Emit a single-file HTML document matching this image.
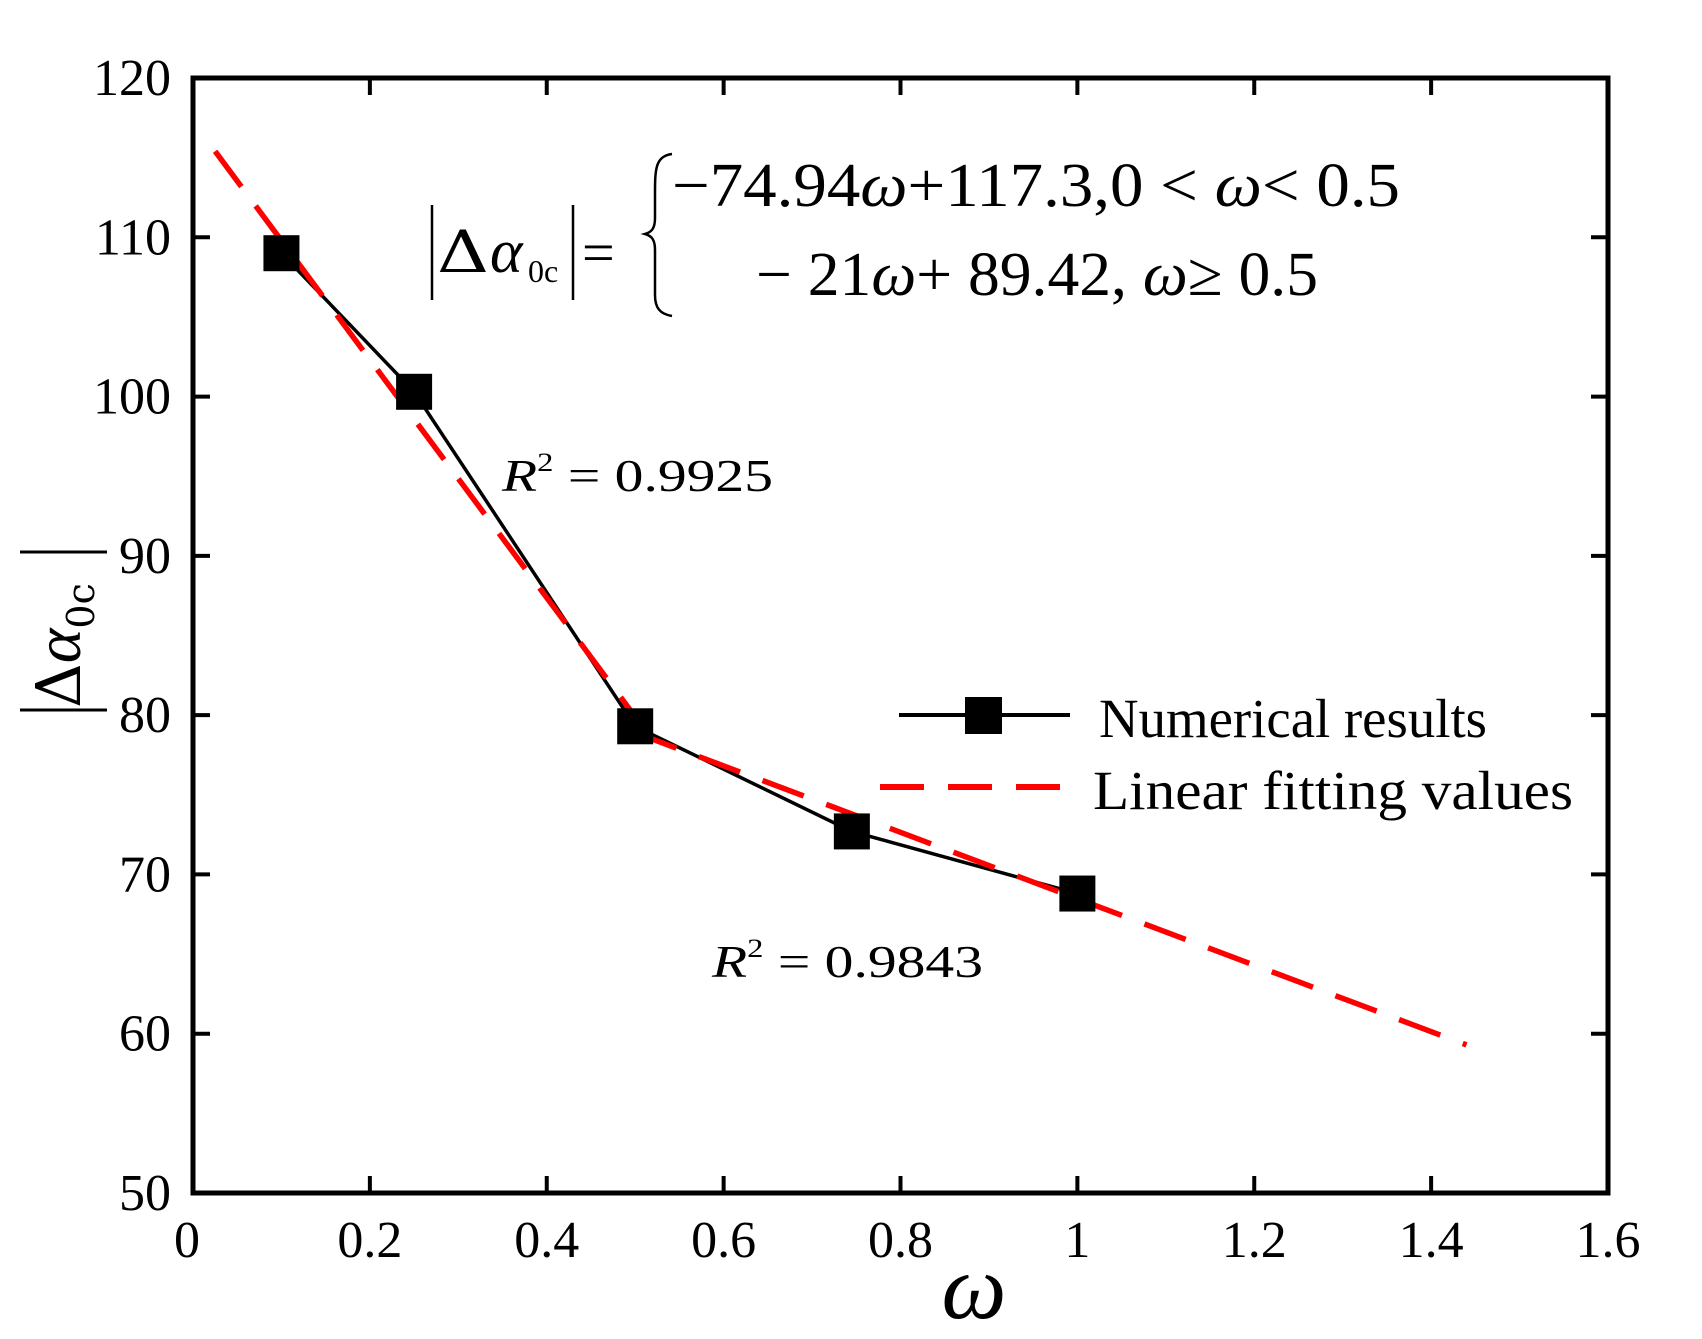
<!DOCTYPE html>
<html><head><meta charset="utf-8"><style>
html,body{margin:0;padding:0;background:#fff;}
svg{display:block;font-family:"Liberation Serif",serif;}
</style></head><body>
<svg id="chart" width="1702" height="1339" viewBox="0 0 1702 1339" xmlns="http://www.w3.org/2000/svg">
<g id="axes"></g>
<g id="series"></g>
<g>
  <line x1="20" y1="552" x2="107" y2="552" stroke="#000" stroke-width="3"/>
  <line x1="20" y1="710" x2="107" y2="710" stroke="#000" stroke-width="3"/>
  <text transform="translate(80,708) rotate(-90)" font-size="62" font-family="'DejaVu Serif',serif">Δ<tspan font-style="italic" font-family="'Liberation Serif',serif" font-size="66">α</tspan><tspan font-size="38" dy="14">0c</tspan></text>
</g>
<text x="974" y="1318" font-size="92" font-style="italic" text-anchor="middle">ω</text>
<g font-family="'Liberation Serif',serif">
  <line x1="432" y1="205" x2="432" y2="300" stroke="#000" stroke-width="2.5"/>
  <line x1="573" y1="205" x2="573" y2="300" stroke="#000" stroke-width="2.5"/>
  <text x="437" y="272" font-size="58" font-family="'DejaVu Serif',serif" textLength="52" lengthAdjust="spacingAndGlyphs">Δ</text>
  <text x="490" y="272" font-size="62" font-style="italic">α</text>
  <text x="528" y="282" font-size="32">0c</text>
  <text x="582" y="272" font-size="58">=</text>
  <path d="M672,154 C655,156 655,170 655,195 L655,218 C655,228 652,232 645,234 C652,236 655,240 655,250 L655,295 C655,308 660,314 672,316" fill="none" stroke="#000" stroke-width="2.5"/>
  <text x="672" y="206" font-size="62" textLength="728" lengthAdjust="spacingAndGlyphs">−74.94<tspan font-style="italic">ω</tspan>+117.3,0 &lt; <tspan font-style="italic">ω</tspan>&lt; 0.5</text>
  <text x="756" y="295" font-size="62" textLength="562" lengthAdjust="spacingAndGlyphs">− 21<tspan font-style="italic">ω</tspan>+ 89.42, <tspan font-style="italic">ω</tspan>≥ 0.5</text>
</g>
<text x="502" y="491" font-size="46" textLength="271" lengthAdjust="spacingAndGlyphs"><tspan font-style="italic">R</tspan><tspan font-size="26" dy="-20">2</tspan><tspan dy="20"> = 0.9925</tspan></text>
<text x="712" y="977" font-size="46" textLength="271" lengthAdjust="spacingAndGlyphs"><tspan font-style="italic">R</tspan><tspan font-size="26" dy="-20">2</tspan><tspan dy="20"> = 0.9843</tspan></text>
<g>
  <g>
    <line x1="899" y1="715" x2="1070" y2="715" stroke="#000" stroke-width="4"/>
    <rect x="965" y="697" width="37" height="37" fill="#000"/>
    <text x="1099" y="737" font-size="55" textLength="388" lengthAdjust="spacingAndGlyphs">Numerical results</text>
  </g>
  <g>
    <line x1="880" y1="787" x2="1082" y2="787" stroke="#f00" stroke-width="6" stroke-dasharray="44,24"/>
    <text x="1093" y="809" font-size="55" textLength="480" lengthAdjust="spacingAndGlyphs">Linear fitting values</text>
  </g>
</g>
</svg>
<script>
const xTicks = [0, 0.2, 0.4, 0.6, 0.8, 1, 1.2, 1.4, 1.6];
const xTickLabels = ["0", "0.2", "0.4", "0.6", "0.8", "1", "1.2", "1.4", "1.6"];
const yTicks = [50, 60, 70, 80, 90, 100, 110, 120];
const yTickLabels = ["50", "60", "70", "80", "90", "100", "110", "120"];
const omegaValues = [0.1, 0.25, 0.5, 0.745, 1.0];
const numericalValues = [109, 100.3, 79.3, 72.7, 68.8];
const fit1X = [0.025, 0.5];
const fit1Y = [115.4, 79.9];
const fit2X = [0.5, 1.44];
const fit2Y = [78.9, 59.3];

const L = 193, R = 1608, T = 78, B = 1193;
const xMin = 0, xMax = 1.6, yMin = 50, yMax = 120;
const sx = v => L + (v - xMin) / (xMax - xMin) * (R - L);
const sy = v => B - (v - yMin) / (yMax - yMin) * (B - T);
const NS = "http://www.w3.org/2000/svg";
function mk(tag, attrs, parent) {
  const e = document.createElementNS(NS, tag);
  for (const k in attrs) e.setAttribute(k, attrs[k]);
  parent.appendChild(e);
  return e;
}
const axes = document.getElementById('axes');
const series = document.getElementById('series');
const frame = mk('rect', {x: L, y: T, width: R - L, height: B - T, fill: 'none', stroke: '#000', 'stroke-width': 5}, axes);


xTicks.forEach((v, i) => {
  const x = sx(v);
  const t1 = mk('line', {x1: x, y1: B, x2: x, y2: B - 17, stroke: '#000', 'stroke-width': 4}, axes);
  
  
  const t2 = mk('line', {x1: x, y1: T, x2: x, y2: T + 17, stroke: '#000', 'stroke-width': 4}, axes);
  
  
  const lb = mk('text', {x: i === 0 ? x - 6 : x, y: 1257, 'font-size': 52, 'text-anchor': 'middle'}, axes);
  lb.textContent = xTickLabels[i];
  
  
});
yTicks.forEach((v, i) => {
  const y = sy(v);
  const t1 = mk('line', {x1: L, y1: y, x2: L + 17, y2: y, stroke: '#000', 'stroke-width': 4}, axes);
  
  
  const t2 = mk('line', {x1: R, y1: y, x2: R - 17, y2: y, stroke: '#000', 'stroke-width': 4}, axes);
  
  
  const lb = mk('text', {x: 171, y: y + 17, 'font-size': 52, 'text-anchor': 'end'}, axes);
  lb.textContent = yTickLabels[i];
  
  
});
const pts = omegaValues.map((v, i) => sx(v) + ',' + sy(numericalValues[i])).join(' ');
const line = mk('polyline', {points: pts, fill: 'none', stroke: '#000', 'stroke-width': 3.5}, series);


const f1 = mk('line', {x1: sx(fit1X[0]), y1: sy(fit1Y[0]), x2: sx(fit1X[1]), y2: sy(fit1Y[1]), stroke: '#f00', 'stroke-width': 5.5, 'stroke-dasharray': '44,24'}, series);


const f2 = mk('line', {x1: sx(fit2X[0]), y1: sy(fit2Y[0]), x2: sx(fit2X[1]), y2: sy(fit2Y[1]), stroke: '#f00', 'stroke-width': 5.5, 'stroke-dasharray': '44,24'}, series);


omegaValues.forEach((v, i) => {
  const m = mk('rect', {x: sx(v) - 18, y: sy(numericalValues[i]) - 18, width: 36, height: 36, fill: '#000'}, series);
  
  
});
</script>
</body></html>
